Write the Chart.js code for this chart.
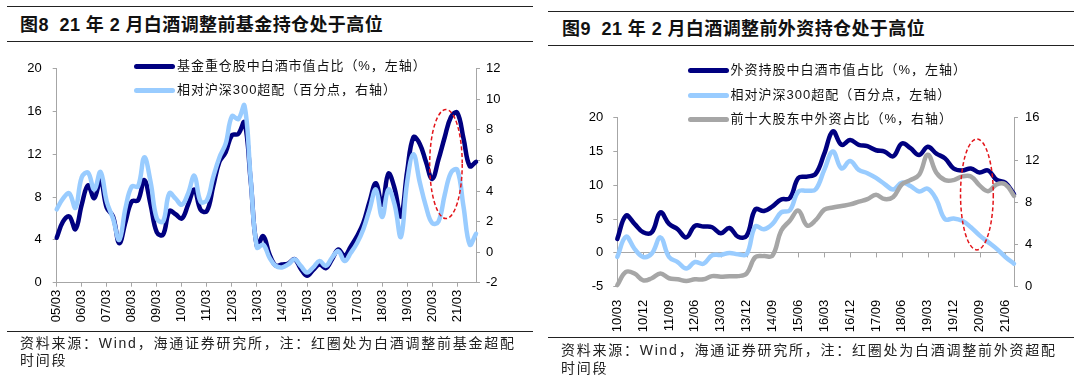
<!DOCTYPE html>
<html><head><meta charset="utf-8">
<script src="https://cdn.jsdelivr.net/npm/chart.js@4.4.0/dist/chart.umd.min.js"></script>
<style>
html,body{margin:0;padding:0;background:#fff;width:1080px;height:382px;overflow:hidden;position:relative;}
.rule{position:absolute;height:0;border-top:1.5px solid #222;}
.title{position:absolute;font-weight:bold;font-size:18px;line-height:20px;color:#111;white-space:pre;letter-spacing:0.4px;font-family:"Liberation Sans","Noto Sans CJK SC",sans-serif;}
.legtxt{position:absolute;font-size:13px;color:#111;white-space:nowrap;line-height:16px;font-family:"Liberation Sans","Noto Sans CJK SC",sans-serif;}
.legline{position:absolute;height:5px;border-radius:2.5px;}
.src{position:absolute;font-size:14px;letter-spacing:1.75px;color:#222;white-space:nowrap;font-family:"Liberation Sans","Noto Sans CJK SC",sans-serif;}
canvas{position:absolute;}
</style>
</head>
<body>
<div class="rule" style="left:7px;top:6px;width:526px"></div>
<div class="rule" style="left:7px;top:41px;width:526px"></div>
<div class="title" style="left:20px;top:15px">图8  21 年 2 月白酒调整前基金持仓处于高位</div>
<div class="rule" style="left:548px;top:11px;width:526px"></div>
<div class="rule" style="left:548px;top:45px;width:526px"></div>
<div class="title" style="left:562px;top:19px">图9  21 年 2 月白酒调整前外资持仓处于高位</div>

<canvas id="cL" width="530" height="290" style="left:0px;top:50px"></canvas>
<canvas id="cR" width="540" height="240" style="left:540px;top:100px"></canvas>

<div class="rule" style="left:7px;top:331px;width:526px"></div>
<div class="src" style="left:20px;top:335px;line-height:17px">资料来源：Wind，海通证券研究所，注：红圈处为白酒调整前基金超配<br>时间段</div>
<div class="rule" style="left:548px;top:337px;width:526px"></div>
<div class="src" style="left:561px;top:341px;line-height:18px">资料来源：Wind，海通证券研究所，注：红圈处为白酒调整前外资超配<br>时间段</div>
<div id="legends"></div>

<script>
// ---------------- data: left chart (图8) ----------------
const quartersL = [
 '05/03','05/06','05/09','05/12','06/03','06/06','06/09','06/12',
 '07/03','07/06','07/09','07/12','08/03','08/06','08/09','08/12',
 '09/03','09/06','09/09','09/12','10/03','10/06','10/09','10/12',
 '11/03','11/06','11/09','11/12','12/03','12/06','12/09','12/12',
 '13/03','13/06','13/09','13/12','14/03','14/06','14/09','14/12',
 '15/03','15/06','15/09','15/12','16/03','16/06','16/09','16/12',
 '17/03','17/06','17/09','17/12','18/03','18/06','18/09','18/12',
 '19/03','19/06','19/09','19/12','20/03','20/06','20/09','20/12',
 '21/03','21/06','21/09','21/12'];
// 基金重仓股中白酒市值占比（%，左轴）
const fundLiquorShare = [
 4.2,5.7,6.2,5.0,7.3,9.1,7.9,9.6,
 7.0,6.2,3.7,5.7,7.6,7.7,9.6,7.3,
 4.7,4.5,6.7,6.4,6.0,7.3,8.7,6.8,
 6.7,9.0,11.3,12.2,13.8,13.9,15.0,9.5,
 3.4,4.35,2.65,1.6,1.7,1.8,2.2,1.3,
 0.65,1.2,1.7,1.35,2.2,3.1,2.5,3.4,
 4.35,5.6,7.6,9.3,7.3,10.2,8.8,6.2,
 10.4,13.6,13.0,11.3,9.7,11.5,13.6,15.5,
 15.9,13.5,10.9,11.3];
// 相对沪深300超配（百分点，右轴）
const fundOverweight = [
 2.8,3.5,3.85,2.9,4.9,5.2,4.1,5.25,
 3.3,2.2,0.8,2.9,4.3,4.3,6.2,4.6,
 2.2,2.0,3.85,3.5,3.1,3.85,5.0,3.3,
 3.4,4.9,6.2,7.1,8.9,8.7,9.6,4.8,
 0.3,0.5,-0.36,-0.9,-1.0,-0.8,-0.47,-0.9,
 -1.33,-1.0,-0.58,-0.9,-0.36,0.07,-0.58,-0.04,
 0.6,1.5,2.8,4.1,2.3,4.1,3.1,1.0,
 4.6,6.4,4.6,3.0,1.9,2.0,3.75,5.2,
 5.4,3.0,0.5,1.2];
const seriesNamesL = ['基金重仓股中白酒市值占比（%，左轴）','相对沪深300超配（百分点，右轴）'];
const leftTicksL = [0,4,8,12,16,20];
const rightTicksL = [-2,0,2,4,6,8,10,12];
const highlightL = {x:62.2, y:11.1, rx:2.6, ry:5.1}; // red circle, in data units (left axis)

// ---------------- data: right chart (图9) ----------------
const quartersR = [
 '10/03','10/06','10/09','10/12','11/03','11/06','11/09','11/12',
 '12/03','12/06','12/09','12/12','13/03','13/06','13/09','13/12',
 '14/03','14/06','14/09','14/12','15/03','15/06','15/09','15/12',
 '16/03','16/06','16/09','16/12','17/03','17/06','17/09','17/12',
 '18/03','18/06','18/09','18/12','19/03','19/06','19/09','19/12',
 '20/03','20/06','20/09','20/12','21/03','21/06','21/09'];
// 外资持股中白酒市值占比（%，左轴）
const foreignLiquorShare = [
 2.07,5.5,4.3,3.05,3.05,6.0,4.3,3.5,
 2.3,4.0,3.9,3.8,2.9,3.7,2.4,2.55,
 6.45,6.2,6.9,7.9,8.1,11.1,11.3,11.7,
 14.7,18.0,16.0,16.7,16.0,15.8,15.2,15.0,
 14.3,16.2,15.5,14.5,15.7,14.7,14.0,12.5,
 12.2,12.5,11.9,12.2,10.8,10.4,8.7];
// 相对沪深300超配（百分点，左轴）
const foreignOverweight = [
 -0.6,2.4,0.6,-0.6,-0.1,2.3,-0.6,-1.35,
 -2.3,-1.35,-1.6,-0.35,-0.3,0,-0.2,-0.2,
 3.9,3.5,4.3,6.0,6.3,9.1,9.2,9.4,
 12.3,15.0,12.5,13.6,12.3,11.8,11.1,10.2,
 9.4,10.4,9.9,9.1,9.5,7.9,5.0,5.1,
 4.75,3.8,2.6,1.6,0.6,-0.6,-1.6];
// 前十大股东中外资占比（%，右轴）
const foreignTop10Share = [
 0.15,1.4,1.25,0.6,0.8,1.25,0.8,0.7,
 0.55,0.7,0.7,1.0,0.95,1.0,1.0,1.25,
 2.8,2.9,2.95,5.3,6.25,7.2,5.8,6.3,
 7.3,7.5,7.65,7.8,8.05,8.3,8.7,8.3,
 8.5,9.7,10.1,10.6,12.5,10.8,10.1,10.1,
 10.45,10.45,9.6,9.05,9.7,9.7,8.6];
const seriesNamesR = ['外资持股中白酒市值占比（%，左轴）','相对沪深300超配（百分点，左轴）','前十大股东中外资占比（%，右轴）'];
const leftTicksR = [-5,0,5,10,15,20];
const rightTicksR = [0,4,8,12,16];
const highlightR = {x:41.7, y:8.65, rx:1.9, ry:8.2};

// ---------------- styles ----------------
const NAVY = '#000080', LIGHT = '#99ccff', GREY = '#a6a6a6', AXIS = '#a6a6a6';
Chart.defaults.font.family = '"Liberation Sans", Arial, sans-serif';
Chart.defaults.font.size = 13;
Chart.defaults.color = '#000';

const ellipsePlugin = {
  id: 'ellipse',
  afterDatasetsDraw(chart, args, opts) {
    const s = opts && opts.spec; if (!s) return;
    const xs = chart.scales.x, ys = chart.scales.y;
    const cx = xs.getPixelForValue(s.x), cy = ys.getPixelForValue(s.y);
    const rx = Math.abs(xs.getPixelForValue(s.x + s.rx) - cx);
    const ry = Math.abs(ys.getPixelForValue(s.y + s.ry) - cy);
    const c = chart.ctx; c.save();
    c.strokeStyle = '#e3151a'; c.lineWidth = 1.5; c.setLineDash([4, 2.5]);
    c.beginPath(); c.ellipse(cx, cy, rx, ry, 0, 0, Math.PI * 2); c.stroke(); c.restore();
  }
};
const zeroTicksPlugin = {
  id: 'zeroTicks',
  beforeDatasetsDraw(chart, args, opts) {
    if (!opts || !opts.on) return;
    const xs = chart.scales.x, ys = chart.scales.y, y0 = ys.getPixelForValue(0);
    const c = chart.ctx; c.save(); c.strokeStyle = AXIS; c.lineWidth = 1;
    xs.ticks.forEach((t, i) => {
      if (t.label === null || t.label === undefined || t.label === '') return;
      const px = Math.round(xs.getPixelForTick(i)) + 0.5;
      c.beginPath(); c.moveTo(px, y0); c.lineTo(px, y0 + 4.5); c.stroke();
    });
    c.restore();
  }
};

function ds(label, data, color, axis, order) {
  return {label, data, borderColor: color, backgroundColor: color, borderWidth: 4.5,
    pointRadius: 0, pointHoverRadius: 0, tension: 0.4, yAxisID: axis, order,
    clip: false, borderJoinStyle: 'round', borderCapStyle: 'round'};
}
function yAxis(pos, tickVals, min, max, width, pad, zeroLine) {
  return {
    position: pos, min, max,
    afterBuildTicks: s => { s.ticks = tickVals.map(v => ({value: v})); },
    afterFit: s => { s.width = width; },
    border: {display: true, color: AXIS, width: 1},
    grid: zeroLine ? {drawOnChartArea: true, drawTicks: true, tickLength: 4, tickColor: AXIS,
                      color: ctx => (ctx.tick && ctx.tick.value === 0) ? AXIS : 'rgba(0,0,0,0)'}
                   : {drawOnChartArea: false, drawTicks: true, tickLength: 4, color: AXIS},
    ticks: {padding: pad, color: '#000', font: {size: 13}}
  };
}

// -------- left chart --------
new Chart(document.getElementById('cL'), {
  type: 'line',
  data: {labels: quartersL, datasets: [
    ds(seriesNamesL[0], fundLiquorShare, NAVY, 'y', 2),
    ds(seriesNamesL[1], fundOverweight, LIGHT, 'y1', 1)
  ]},
  options: {
    responsive: false, animation: false, devicePixelRatio: 1,
    layout: {padding: {top: 16, left: 0, right: 0, bottom: 0}},
    plugins: {legend: {display: false}, tooltip: {enabled: false}, ellipse: {spec: highlightL}},
    scales: {
      x: {
        offset: false,
        afterFit: s => { s.height = 57.3; },
        border: {display: true, color: AXIS},
        grid: {drawOnChartArea: false, drawTicks: true, tickLength: 4, color: AXIS},
        ticks: {autoSkip: false, maxRotation: 90, minRotation: 90, padding: 3, font: {size: 13},
          callback: function (v, i) { return i % 4 === 0 ? this.getLabelForValue(v) : null; }}
      },
      y: yAxis('left', leftTicksL, 0, 20, 56.7, 11, false),
      y1: yAxis('right', rightTicksL, -2, 12, 54, 6, false)
    }
  },
  plugins: [ellipsePlugin]
});

// -------- right chart --------
new Chart(document.getElementById('cR'), {
  type: 'line',
  data: {labels: quartersR, datasets: [
    ds(seriesNamesR[0], foreignLiquorShare, NAVY, 'y', 3),
    ds(seriesNamesR[1], foreignOverweight, LIGHT, 'y', 2),
    ds(seriesNamesR[2], foreignTop10Share, GREY, 'y1', 1)
  ]},
  options: {
    responsive: false, animation: false, devicePixelRatio: 1,
    layout: {padding: {top: 15.7, left: 0, right: 0, bottom: 0}},
    plugins: {legend: {display: false}, tooltip: {enabled: false}, ellipse: {spec: highlightR}, zeroTicks: {on: true}},
    scales: {
      x: {
        offset: false,
        afterFit: s => { s.height = 53.3; },
        border: {display: false},
        grid: {display: false},
        ticks: {autoSkip: false, maxRotation: 90, minRotation: 90, padding: 5, font: {size: 13},
          callback: function (v, i) { return i % 3 === 0 ? this.getLabelForValue(v) : null; }}
      },
      y: yAxis('left', leftTicksR, -5, 20, 77.3, 10, true),
      y1: yAxis('right', rightTicksR, 0, 16, 66, 7, false)
    }
  },
  plugins: [ellipsePlugin, zeroTicksPlugin]
});

// -------- HTML legends built from series names --------
(function () {
  const host = document.getElementById('legends');
  function item(x, y, color, text, spacing) {
    const l = document.createElement('div'); l.className = 'legline';
    l.style.cssText = `left:${x}px;top:${y - 2.5}px;width:41px;background:${color}`;
    const t = document.createElement('div'); t.className = 'legtxt';
    t.style.cssText = `left:${x + 43}px;top:${y - 8.5}px;letter-spacing:${spacing}px`;
    t.textContent = text;
    host.appendChild(l); host.appendChild(t);
  }
  const colL = [NAVY, LIGHT], colR = [NAVY, LIGHT, GREY];
  seriesNamesL.forEach((n, i) => item(134, 66.7 + i * 23.5, colL[i], n, 0.95));
  seriesNamesR.forEach((n, i) => item(687.5, 70.8 + i * 24.3, colR[i], n, 1.0));
})();
</script>
</body></html>
